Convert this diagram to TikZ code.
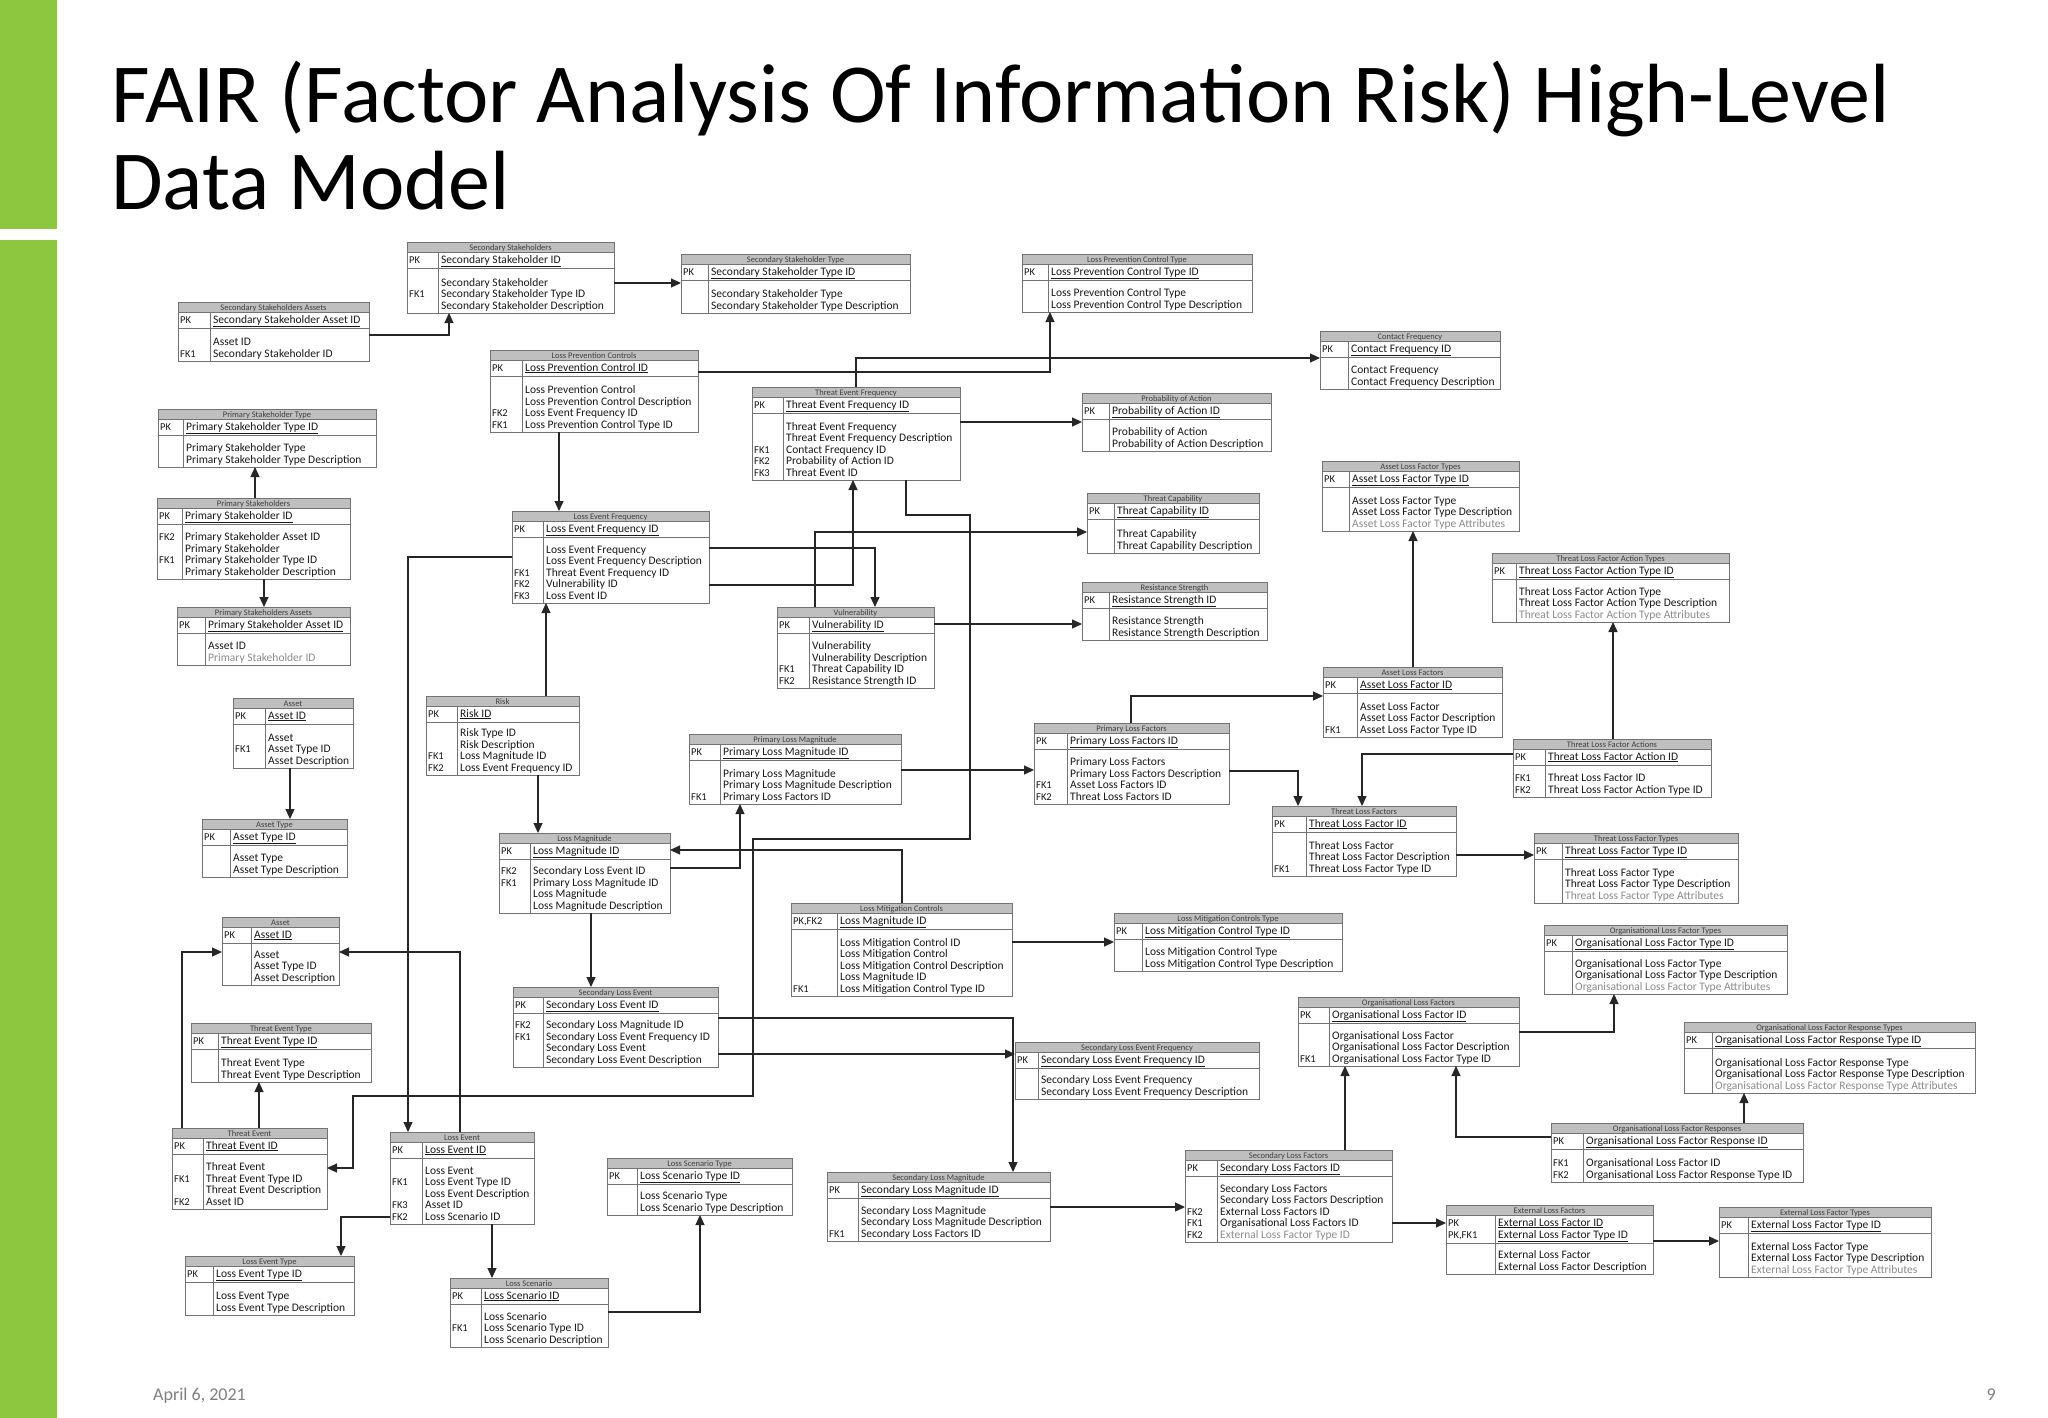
\documentclass[tikz,border=0pt]{standalone}
\usepackage{fontspec}
\setmainfont{Carlito}
\usetikzlibrary{arrows.meta}
\definecolor{slidegreen}{RGB}{141,198,63}

\newcommand{\greyattr}[1]{\textcolor{black!45}{#1}}
% name, x, y, width, height, key column, title, pk rows, attribute rows
\newcommand{\entity}[9]{%
  \node[entbox, minimum width=#4pt, minimum height=#5pt, anchor=north west] (#1) at (#2,#3) {};
  \fill[titlebar] (#2,#3) rectangle ({#2+#4},{#3+10});
  \node[enttitle] (#1-title) at ({#2+#4/2},{#3+8}) {#7};
  \foreach \k/\a [count=\j] in {#8} {
    \node[keytxt] (#1-pkkey\j) at ({#2+2},{#3+21+(\j-1)*12}) {\k};
    \node[attrtxt] (#1-pk\j) at ({#2+#6+3},{#3+21+(\j-1)*12}) {\underline{\a}};
    \xdef\npk{\j}
  }
  \draw[entline] (#2,{#3+10}) -- ({#2+#4},{#3+10});
  \draw[entline] (#2,{#3+26+(\npk-1)*12}) -- ({#2+#4},{#3+26+(\npk-1)*12});
  \draw[entline] ({#2+#6},{#3+10}) -- ({#2+#6},{#3+#5});
  \foreach \k/\a [count=\j] in {#9} {\xdef\nattr{\j}}
  \foreach \k/\a [count=\j] in {#9} {
    \node[keytxt] (#1-key\j) at ({#2+2},{#3+#5-4-(\nattr-\j)*11.5}) {\k};
    \node[attrtxt] (#1-att\j) at ({#2+#6+3},{#3+#5-4-(\nattr-\j)*11.5}) {\a};
  }
  \draw[entline] (#1.north west) rectangle (#1.south east);
}

\begin{document}
\begin{tikzpicture}[x=1pt,y=-1pt]
    \tikzstyle{entbox} = [rectangle,fill=white,draw=none,inner sep=0pt,outer sep=0pt]
    \tikzstyle{titlebar} = [fill=black!25]
    \tikzstyle{enttitle} = [anchor=base,inner sep=0pt,text=black!75,font=\fontsize{8.5}{9}\selectfont]
    \tikzstyle{keytxt} = [anchor=base west,inner sep=0pt,text=black!90,font=\fontsize{10.5}{10.5}\selectfont]
    \tikzstyle{attrtxt} = [anchor=base west,inner sep=0pt,text=black!90,font=\fontsize{11.5}{11.5}\selectfont]
    \tikzstyle{entline} = [draw=black!55,line width=0.9pt]
    \tikzstyle{fk} = [draw=black!85,line width=1.2pt,-{Triangle[length=10pt,width=9pt]}]
    \useasboundingbox (0,0) rectangle (2048,1418);
    % slide frame
    \fill[slidegreen] (0,0) rectangle (57,229);
    \fill[slidegreen] (0,240) rectangle (57,1418);
    \node[anchor=base west,inner sep=0pt,font=\fontsize{84}{86}\selectfont] (title) at (111,123)
      {FAIR (Factor Analysis Of Information Risk) High-Level};
    \node[anchor=base west,inner sep=0pt,font=\fontsize{84}{86}\selectfont] (title2) at (111,209) {Data Model};
    \node[anchor=base west,inner sep=0pt,text=black!50,font=\fontsize{18}{18}\selectfont] (date) at (153,1400) {April 6, 2021};
    \node[anchor=base east,inner sep=0pt,text=black!50,font=\fontsize{18}{18}\selectfont] (pagenum) at (1996,1400) {9};

    % stakeholders
    \entity{ss}{407}{242}{207}{71}{31}{Secondary Stakeholders}{PK/Secondary Stakeholder ID}
      {/Secondary Stakeholder, FK1/Secondary Stakeholder Type ID, /Secondary Stakeholder Description}
    \entity{ssa}{178}{302}{191}{59}{32}{Secondary Stakeholders Assets}{PK/Secondary Stakeholder Asset ID}
      {/Asset ID, FK1/Secondary Stakeholder ID}
    \entity{sst}{681}{254}{229}{59}{27}{Secondary Stakeholder Type}{PK/Secondary Stakeholder Type ID}
      {/Secondary Stakeholder Type, /Secondary Stakeholder Type Description}
    \entity{psht}{158}{409}{218}{58}{25}{Primary Stakeholder Type}{PK/Primary Stakeholder Type ID}
      {/Primary Stakeholder Type, /Primary Stakeholder Type Description}
    \entity{psh}{157}{498}{193}{81}{25}{Primary Stakeholders}{PK/Primary Stakeholder ID}
      {FK2/Primary Stakeholder Asset ID, /Primary Stakeholder, FK1/Primary Stakeholder Type ID, /Primary Stakeholder Description}
    \entity{psha}{177}{607}{173}{58}{28}{Primary Stakeholders Assets}{PK/Primary Stakeholder Asset ID}
      {/Asset ID, /\greyattr{Primary Stakeholder ID}}

    % frequency side
    \entity{lpct}{1022}{254}{230}{58}{26}{Loss Prevention Control Type}{PK/Loss Prevention Control Type ID}
      {/Loss Prevention Control Type, /Loss Prevention Control Type Description}
    \entity{lpc}{490}{350}{208}{82}{32}{Loss Prevention Controls}{PK/Loss Prevention Control ID}
      {/Loss Prevention Control, /Loss Prevention Control Description, FK2/Loss Event Frequency ID, FK1/Loss Prevention Control Type ID}
    \entity{tef}{752}{387}{208}{93}{31}{Threat Event Frequency}{PK/Threat Event Frequency ID}
      {/Threat Event Frequency, /Threat Event Frequency Description, FK1/Contact Frequency ID, FK2/Probability of Action ID, FK3/Threat Event ID}
    \entity{cf}{1320}{331}{180}{58}{28}{Contact Frequency}{PK/Contact Frequency ID}
      {/Contact Frequency, /Contact Frequency Description}
    \entity{poa}{1082}{393}{189}{58}{27}{Probability of Action}{PK/Probability of Action ID}
      {/Probability of Action, /Probability of Action Description}
    \entity{lef}{512}{511}{197}{92}{31}{Loss Event Frequency}{PK/Loss Event Frequency ID}
      {/Loss Event Frequency, /Loss Event Frequency Description, FK1/Threat Event Frequency ID, FK2/Vulnerability ID, FK3/Loss Event ID}
    \entity{tc}{1087}{493}{172}{60}{27}{Threat Capability}{PK/Threat Capability ID}
      {/Threat Capability, /Threat Capability Description}
    \entity{rs}{1082}{582}{185}{58}{27}{Resistance Strength}{PK/Resistance Strength ID}
      {/Resistance Strength, /Resistance Strength Description}
    \entity{vul}{777}{607}{157}{81}{32}{Vulnerability}{PK/Vulnerability ID}
      {/Vulnerability, /Vulnerability Description, FK1/Threat Capability ID, FK2/Resistance Strength ID}

    % loss factors
    \entity{alft}{1322}{461}{197}{70}{27}{Asset Loss Factor Types}{PK/Asset Loss Factor Type ID}
      {/Asset Loss Factor Type, /Asset Loss Factor Type Description, /\greyattr{Asset Loss Factor Type Attributes}}
    \entity{tlfat}{1492}{553}{237}{69}{24}{Threat Loss Factor Action Types}{PK/Threat Loss Factor Action Type ID}
      {/Threat Loss Factor Action Type, /Threat Loss Factor Action Type Description, /\greyattr{Threat Loss Factor Action Type Attributes}}
    \entity{alf}{1323}{667}{179}{70}{34}{Asset Loss Factors}{PK/Asset Loss Factor ID}
      {/Asset Loss Factor, /Asset Loss Factor Description, FK1/Asset Loss Factor Type ID}
    \entity{plf}{1034}{723}{195}{81}{33}{Primary Loss Factors}{PK/Primary Loss Factors ID}
      {/Primary Loss Factors, /Primary Loss Factors Description, FK1/Asset Loss Factors ID, FK2/Threat Loss Factors ID}
    \entity{tlfa}{1513}{739}{198}{58}{32}{Threat Loss Factor Actions}{PK/Threat Loss Factor Action ID}
      {FK1/Threat Loss Factor ID, FK2/Threat Loss Factor Action Type ID}
    \entity{tlf}{1272}{806}{184}{70}{34}{Threat Loss Factors}{PK/Threat Loss Factor ID}
      {/Threat Loss Factor, /Threat Loss Factor Description, FK1/Threat Loss Factor Type ID}
    \entity{tlft}{1534}{833}{204}{70}{28}{Threat Loss Factor Types}{PK/Threat Loss Factor Type ID}
      {/Threat Loss Factor Type, /Threat Loss Factor Type Description, /\greyattr{Threat Loss Factor Type Attributes}}
    \entity{olft}{1544}{925}{243}{69}{28}{Organisational Loss Factor Types}{PK/Organisational Loss Factor Type ID}
      {/Organisational Loss Factor Type, /Organisational Loss Factor Type Description, /\greyattr{Organisational Loss Factor Type Attributes}}
    \entity{olf}{1298}{997}{221}{69}{31}{Organisational Loss Factors}{PK/Organisational Loss Factor ID}
      {/Organisational Loss Factor, /Organisational Loss Factor Description, FK1/Organisational Loss Factor Type ID}
    \entity{olfrt}{1684}{1022}{291}{71}{28}{Organisational Loss Factor Response Types}{PK/Organisational Loss Factor Response Type ID}
      {/Organisational Loss Factor Response Type, /Organisational Loss Factor Response Type Description, /\greyattr{Organisational Loss Factor Response Type Attributes}}
    \entity{olfr}{1551}{1123}{252}{59}{32}{Organisational Loss Factor Responses}{PK/Organisational Loss Factor Response ID}
      {FK1/Organisational Loss Factor ID, FK2/Organisational Loss Factor Response Type ID}
    \entity{slf}{1185}{1150}{207}{92}{32}{Secondary Loss Factors}{PK/Secondary Loss Factors ID}
      {/Secondary Loss Factors, /Secondary Loss Factors Description, FK2/External Loss Factors ID, FK1/Organisational Loss Factors ID, FK2/\greyattr{External Loss Factor Type ID}}
    \entity{elf}{1446}{1205}{207}{69}{49}{External Loss Factors}{PK/External Loss Factor ID, {PK,FK1}/External Loss Factor Type ID}
      {/External Loss Factor, /External Loss Factor Description}
    \entity{elft}{1719}{1207}{212}{70}{29}{External Loss Factor Types}{PK/External Loss Factor Type ID}
      {/External Loss Factor Type, /External Loss Factor Type Description, /\greyattr{External Loss Factor Type Attributes}}

    % magnitude side
    \entity{asset1}{233}{698}{120}{70}{32}{Asset}{PK/Asset ID}
      {/Asset, FK1/Asset Type ID, /Asset Description}
    \entity{atype}{202}{819}{145}{58}{28}{Asset Type}{PK/Asset Type ID}
      {/Asset Type, /Asset Type Description}
    \entity{risk}{426}{696}{153}{79}{31}{Risk}{PK/Risk ID}
      {/Risk Type ID, /Risk Description, FK1/Loss Magnitude ID, FK2/Loss Event Frequency ID}
    \entity{plm}{689}{734}{212}{70}{31}{Primary Loss Magnitude}{PK/Primary Loss Magnitude ID}
      {/Primary Loss Magnitude, /Primary Loss Magnitude Description, FK1/Primary Loss Factors ID}
    \entity{lm}{499}{833}{171}{80}{31}{Loss Magnitude}{PK/Loss Magnitude ID}
      {FK2/Secondary Loss Event ID, FK1/Primary Loss Magnitude ID, /Loss Magnitude, /Loss Magnitude Description}
    \entity{lmc}{791}{903}{221}{93}{46}{Loss Mitigation Controls}{{PK,FK2}/Loss Magnitude ID}
      {/Loss Mitigation Control ID, /Loss Mitigation Control, /Loss Mitigation Control Description, /Loss Magnitude ID, FK1/Loss Mitigation Control Type ID}
    \entity{lmct}{1114}{913}{228}{58}{28}{Loss Mitigation Controls Type}{PK/Loss Mitigation Control Type ID}
      {/Loss Mitigation Control Type, /Loss Mitigation Control Type Description}
    \entity{asset2}{222}{917}{117}{68}{29}{Asset}{PK/Asset ID}
      {/Asset, /Asset Type ID, /Asset Description}
    \entity{sle}{513}{987}{205}{80}{30}{Secondary Loss Event}{PK/Secondary Loss Event ID}
      {FK2/Secondary Loss Magnitude ID, FK1/Secondary Loss Event Frequency ID, /Secondary Loss Event, /Secondary Loss Event Description}
    \entity{slef}{1015}{1042}{244}{57}{23}{Secondary Loss Event Frequency}{PK/Secondary Loss Event Frequency ID}
      {/Secondary Loss Event Frequency, /Secondary Loss Event Frequency Description}
    \entity{slm}{827}{1172}{223}{69}{31}{Secondary Loss Magnitude}{PK/Secondary Loss Magnitude ID}
      {/Secondary Loss Magnitude, /Secondary Loss Magnitude Description, FK1/Secondary Loss Factors ID}

    % events
    \entity{tet}{191}{1023}{180}{59}{27}{Threat Event Type}{PK/Threat Event Type ID}
      {/Threat Event Type, /Threat Event Type Description}
    \entity{te}{172}{1128}{155}{81}{31}{Threat Event}{PK/Threat Event ID}
      {/Threat Event, FK1/Threat Event Type ID, /Threat Event Description, FK2/Asset ID}
    \entity{le}{390}{1132}{144}{92}{32}{Loss Event}{PK/Loss Event ID}
      {/Loss Event, FK1/Loss Event Type ID, /Loss Event Description, FK3/Asset ID, FK2/Loss Scenario ID}
    \entity{let}{185}{1256}{169}{59}{28}{Loss Event Type}{PK/Loss Event Type ID}
      {/Loss Event Type, /Loss Event Type Description}
    \entity{ls}{450}{1278}{158}{69}{31}{Loss Scenario}{PK/Loss Scenario ID}
      {/Loss Scenario, FK1/Loss Scenario Type ID, /Loss Scenario Description}
    \entity{lst}{607}{1158}{185}{57}{30}{Loss Scenario Type}{PK/Loss Scenario Type ID}
      {/Loss Scenario Type, /Loss Scenario Type Description}

    % relationships
    \draw[fk] (ssa.east |- 0,335) -| (ss.south -| 449,0);
    \draw[fk] (ss.east |- 0,283) -- (sst.west |- 0,283);
    \draw[fk] (psh.north -| 255,0) -- (psht.south -| 255,0);
    \draw[fk] (psh.south -| 264,0) -- (psha.north -| 264,0);
    \draw[fk] (lpc.south -| 559,0) -- (lef.north -| 559,0);
    \draw[fk] (lpc.east |- 0,372) -| (lpct.south -| 1050,0);
    \draw[fk] (tef.north -| 856,0) |- (cf.west |- 0,358);
    \draw[fk] (tef.east |- 0,422) -- (poa.west |- 0,422);
    \draw[fk] (tef.south -| 906,0) |- (970,515) |- (753,839) |- (353,1096) |- (te.east |- 0,1168);
    \draw[fk] (lef.east |- 0,585) -| (tef.south -| 853,0);
    \draw[fk] (lef.east |- 0,548) -| (vul.north -| 875,0);
    \draw[fk] (lef.west |- 0,557) -| (le.north -| 408,0);
    \draw[fk] (vul.north -| 815,0) |- (tc.west |- 0,532);
    \draw[fk] (vul.east |- 0,624) -- (rs.west |- 0,624);
    \draw[fk] (risk.north -| 546,0) -- (lef.south -| 546,0);
    \draw[fk] (risk.south -| 538,0) -- (lm.north -| 538,0);
    \draw[fk] (asset1.south -| 290,0) -- (atype.north -| 290,0);
    \draw[fk] (alf.north -| 1413,0) -- (alft.south -| 1413,0);
    \draw[fk] (plf.north -| 1131,0) |- (alf.west |- 0,696);
    \draw[fk] (plf.east |- 0,771) -| (tlf.north -| 1298,0);
    \draw[fk] (tlfa.north -| 1613,0) -- (tlfat.south -| 1613,0);
    \draw[fk] (tlfa.west |- 0,754) -| (tlf.north -| 1362,0);
    \draw[fk] (tlf.east |- 0,855) -- (tlft.west |- 0,855);
    \draw[fk] (plm.east |- 0,770) -- (plf.west |- 0,770);
    \draw[fk] (lm.east |- 0,868) -| (plm.south -| 740,0);
    \draw[fk] (lmc.north -| 902,0) |- (lm.east |- 0,850);
    \draw[fk] (lmc.east |- 0,942) -- (lmct.west |- 0,942);
    \draw[fk] (lm.south -| 591,0) -- (sle.north -| 591,0);
    \draw[fk] (te.north -| 182,0) |- (asset2.west |- 0,952);
    \draw[fk] (te.north -| 259,0) -- (tet.south -| 259,0);
    \draw[fk] (le.north -| 460,0) |- (asset2.east |- 0,952);
    \draw[fk] (le.west |- 0,1217) -| (let.north -| 341,0);
    \draw[fk] (le.south -| 492,0) -- (ls.north -| 492,0);
    \draw[fk] (ls.east |- 0,1312) -| (lst.south -| 700,0);
    \draw[fk] (sle.east |- 0,1018) -| (slm.north -| 1013,0);
    \draw[fk] (sle.east |- 0,1054) -- (slef.west |- 0,1054);
    \draw[fk] (slm.east |- 0,1207) -- (slf.west |- 0,1207);
    \draw[fk] (slf.north -| 1345,0) -- (olf.south -| 1345,0);
    \draw[fk] (slf.east |- 0,1223) -- (elf.west |- 0,1223);
    \draw[fk] (olf.east |- 0,1032) -| (olft.south -| 1614,0);
    \draw[fk] (olfr.west |- 0,1137) -| (olf.south -| 1456,0);
    \draw[fk] (olfr.north -| 1744,0) -- (olfrt.south -| 1744,0);
    \draw[fk] (elf.east |- 0,1241) -- (elft.west |- 0,1241);
\end{tikzpicture}
\end{document}
